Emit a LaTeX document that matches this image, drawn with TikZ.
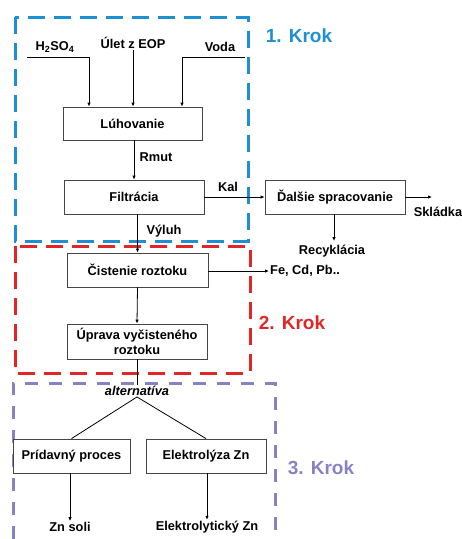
\documentclass[tikz,border=0pt]{standalone}
\usepackage{fontspec}
\setmainfont{Liberation Sans}
\usetikzlibrary{arrows.meta}
\definecolor{kblue}{RGB}{30,144,210}
\definecolor{kred}{RGB}{226,38,40}
\definecolor{kpurple}{RGB}{135,130,196}
\definecolor{kedge}{RGB}{70,70,70}
\tikzset{
  procbox/.style={draw=kedge,line width=0.8pt,fill=white,align=center,font=\fontsize{12.8}{14.5}\selectfont\bfseries,inner sep=2pt},
  lbl/.style={font=\fontsize{12.8}{14.5}\selectfont\bfseries,inner sep=1pt},
  arr/.style={line width=0.8pt,-{Latex[length=4pt,width=3.5pt]}},
  ln/.style={line width=0.8pt},
  stepframe/.style={line width=3pt,dash pattern=on 17pt off 9pt},
  stepframeb/.style={line width=3pt,dash pattern=on 13pt off 11pt},
  steplbl/.style={font=\fontsize{19}{22}\selectfont\bfseries,inner sep=0pt}
}
\begin{document}
\begin{tikzpicture}[x=1pt,y=-1pt]
\useasboundingbox (0,0) rectangle (462,539);
% step frames
\draw[stepframe,kblue] (15,17) rectangle (248,241);
\draw[stepframe,kred] (15,246) rectangle (250,373);
\draw[stepframeb,kpurple] (13,539) -- (13,383) -- (275,383) -- (275,539);
\node[steplbl,text=kblue] (k1) at (299,36) {1. Krok};
\node[steplbl,text=kred] (k2) at (292,323) {2. Krok};
\node[steplbl,text=kpurple] (k3) at (321,468) {3. Krok};
% process boxes
\node[procbox,minimum width=139pt,minimum height=33pt] (luh) at (132.5,123.5) {Lúhovanie};
\node[procbox,minimum width=140pt,minimum height=34pt] (fil) at (134,197) {Filtrácia};
\node[procbox,minimum width=141pt,minimum height=34pt] (cis) at (137.5,270) {Čistenie roztoku};
\node[procbox,minimum width=140pt,minimum height=35pt] (upr) at (137,341.5) {Úprava vyčisteného\\roztoku};
\node[procbox,minimum width=140pt,minimum height=34pt] (dal) at (335,197) {Ďalšie spracovanie};
\node[procbox,minimum width=117pt,minimum height=34pt] (prid) at (71.5,456) {Prídavný proces};
\node[procbox,minimum width=120pt,minimum height=34pt] (ele) at (206,456) {Elektrolýza Zn};
% inputs
\node[lbl] (h2so4) at (55,47) {H\textsubscript{2}SO\textsubscript{4}};
\node[lbl] (ulet) at (133,43) {Úlet z EOP};
\node[lbl] (voda) at (220,47) {Voda};
\coordinate (h1) at (27,57);
\coordinate (hk) at (89,57);
\coordinate (v1) at (245,57);
\coordinate (vk) at (182,57);
\draw[arr] (h1) -- (hk) -- (hk |- luh.north);
\draw[arr] (ulet.south) -- (ulet.south |- luh.north);
\draw[arr] (v1) -- (vk) -- (vk |- luh.north);
% flow
\draw[arr] (luh.south -| fil.north) -- (fil.north);
\node[lbl] (rmut) at (156,157) {Rmut};
\draw[arr] (fil.east) -- (dal.west);
\node[lbl] (kal) at (228,187) {Kal};
\draw[arr] (cis.north |- fil.south) -- (cis.north);
\node[lbl] (vyluh) at (164,231) {Výluh};
\coordinate (sk) at (432,197);
\draw[arr] (dal.east) -- (sk);
\node[lbl] (skl) at (438,212) {Skládka};
\node[lbl] (rec) at (332,251) {Recyklácia};
\draw[arr] (dal.south -| 334,0) -- (334,241);
\node[lbl,anchor=west] (fe) at (269,271) {Fe, Cd, Pb..};
\draw[arr] (cis.east |- fe.west) -- (fe.west);
\draw[arr] (cis.south) -- (upr.north);
\node[lbl,font=\fontsize{12.8}{14.5}\selectfont\bfseries\itshape] (alt) at (137,391) {alternatíva};
\draw[ln] (upr.south) -- (alt.north);
\draw[ln] (alt.south) -- (prid.north);
\draw[ln] (alt.south) -- (ele.north);
\node[lbl] (zn) at (70,527) {Zn soli};
\node[lbl] (ezn) at (207,527) {Elektrolytický Zn};
\draw[arr] (prid.south -| zn.north) -- (zn.north);
\draw[arr] (ele.south -| ezn.north) -- (ezn.north);
\end{tikzpicture}
\end{document}
